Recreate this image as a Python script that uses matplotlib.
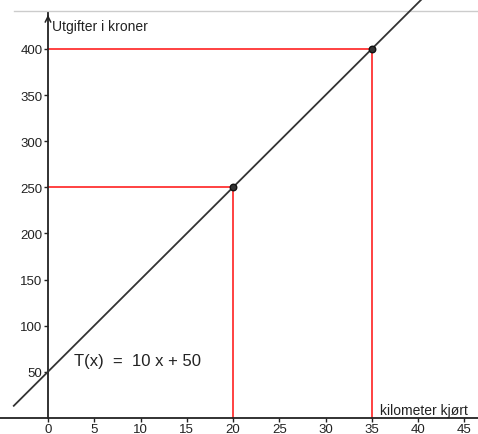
import matplotlib
matplotlib.use("Agg")
import matplotlib.pyplot as plt
import numpy as np

plt.rcParams['font.family'] = ['Liberation Sans', 'DejaVu Sans']

# Data
slope = 10
intercept = 50
points_x = [20, 35]
points_y = [250, 400]
x_ticks = [0, 5, 10, 15, 20, 25, 30, 35, 40, 45]
y_ticks = [50, 100, 150, 200, 250, 300, 350, 400]
x_label = "kilometer kjørt"
y_label = "Utgifter i kroner"
formula = "T(x)  =  10 x + 50"

W, H = 478, 435
fig = plt.figure(figsize=(W / 100, H / 100), dpi=100)
ax = fig.add_axes([0, 0, 1, 1])

# pixel mapping: x=0 at 48px, 9.25 px/unit ; y=0 at 418.8px, 0.922 px/unit
xpx0, xs = 48, 9.25
ypx0, ys = 418.8, 0.922
ax.set_xlim(-xpx0 / xs, (W - xpx0) / xs)
ax.set_ylim(-(H - ypx0) / ys, ypx0 / ys)

for s in ['top', 'right']:
    ax.spines[s].set_visible(False)
ax.spines['left'].set_position(('data', 0))
ax.spines['bottom'].set_position(('data', 0))
for s in ['left', 'bottom']:
    ax.spines[s].set_color('#222222')
    ax.spines[s].set_linewidth(1.3)
ytop = (ypx0 - 14) / ys
ax.spines['left'].set_bounds(0, ytop)
ax.annotate('', xy=(0, ytop + 1), xytext=(0, ytop - 8),
            arrowprops=dict(arrowstyle='->', color='#222222', lw=1.1))

ax.set_xticks(x_ticks)
ax.set_yticks(y_ticks)
ax.tick_params(axis='both', direction='out', length=3, width=1, color='#222222',
               labelsize=9.5, labelcolor='#222222', pad=1)

# top gray border line
ax.plot([-xpx0 / xs + 14 / xs, (W - xpx0) / xs], [(ypx0 - 12) / ys] * 2,
        color='#cccccc', lw=1, clip_on=False)

# function line
xl = np.array([-3.7, 46.5])
ax.plot(xl, slope * xl + intercept, color='#333333', lw=1.3, zorder=3)

# red helper lines
for px, py in zip(points_x, points_y):
    ax.plot([0, px], [py, py], color='#ff3333', lw=1.3, zorder=2)
    ax.plot([px, px], [0, py], color='#ff3333', lw=1.3, zorder=2)

ax.scatter(points_x, points_y, s=22, color='#333333', edgecolor='#111111',
           linewidth=1, zorder=5)

ax.text(0.45, 425, y_label, fontsize=10, color='#222222', va='center', ha='left')
ax.text(35.9, 9, x_label, fontsize=10, color='#222222', va='center', ha='left')
ax.text(2.8, 62, formula, fontsize=12, color='#222222', va='center', ha='left')

fig.savefig('out.png', dpi=100)
